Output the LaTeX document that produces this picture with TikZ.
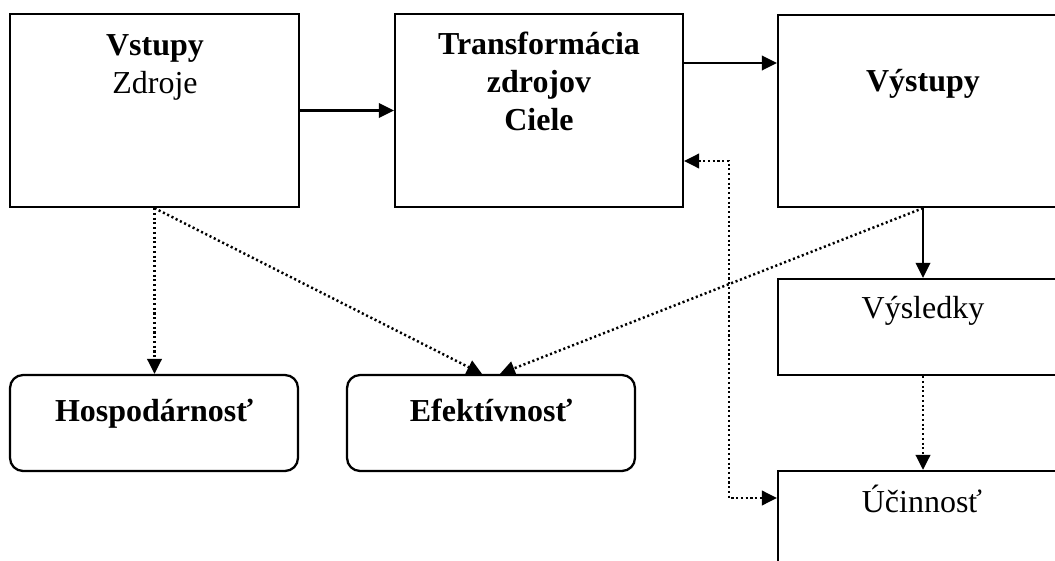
\documentclass[tikz,border=0pt]{standalone}
\usepackage{fontspec}
\setmainfont{Liberation Serif}
\usetikzlibrary{arrows.meta}
\tikzset{arr/.tip={Triangle[length=8.5pt,width=8.2pt]},
  box/.style={draw, line width=1.3pt, minimum width=5.76cm, minimum height=1.92cm, inner sep=0pt},
  rbox/.style={box, rounded corners=0.26cm},
  lbl/.style={anchor=base, inner sep=0pt, font=\fontsize{18.2}{21.6}\selectfont},
  my arrow/.style={line width=1.3pt, -arr},
  my dots/.style={my arrow, line width=1.4pt, dash pattern=on 1.2pt off 1.5pt}
}
\begin{document}
\begin{tikzpicture}[x=0.02cm, y=-0.02cm]
    \useasboundingbox (0,0) rectangle (1055,561);
    \clip (0,0) rectangle (1055,561);

    % top row
    \node[box, minimum width=5.78cm, minimum height=3.86cm] (vst) at (154.5,110.5) {};
    \node[box, minimum height=3.86cm] (trf) at (539,110.5) {};
    \node[box, minimum width=5.8cm, minimum height=3.84cm] (vys) at (923,111) {};

    % right column
    \node[box, minimum width=5.8cm] (vsl) at (923,327) {};
    \node[box, minimum width=5.8cm] (uci) at (923,519) {};

    % bottom row
    \node[rbox] (hos) at (154,423) {};
    \node[rbox] (efe) at (491,423) {};

    % texts
    \node[lbl] (vst1) at (155,55) {\textbf{Vstupy}};
    \node[lbl] (vst2) at (155,93) {Zdroje};
    \foreach \t [count=\n] in {Transformácia, zdrojov, Ciele}
        \node[lbl] (trf\n) at (539,16+38*\n) {\textbf{\t}};
    \node[lbl] (vys1) at (923,91) {\textbf{Výstupy}};
    \node[lbl] (vsl1) at (923,318) {Výsledky};
    \node[lbl] (uci1) at (922,512) {Účinnosť};
    \node[lbl] (hos1) at (154,421) {\textbf{Hospodárnosť}};
    \node[lbl] (efe1) at (491,421) {\textbf{Efektívnosť}};

    \coordinate (bend) at (729,498);

    \draw[my arrow] (vst.east) -- (trf.west);
    \draw[my arrow] (trf.east |- 0,63) -- (vys.west |- 0,63);
    \draw[my arrow] (vys.south) -- (vsl.north);

    \draw[my dots] (vst.south) -- (vst.south |- hos.north);
    \draw[my dots] (vst.south) -- ([xshift=-0.18cm]efe.north);
    \draw[my dots] (vys.south) -- ([xshift=0.18cm]efe.north);
    \draw[my dots] (vsl.south) -- (uci.north);
    \draw[my dots, arr-arr] (trf.east |- 0,161) -| (bend) -- (uci.west |- bend);
\end{tikzpicture}
\end{document}
